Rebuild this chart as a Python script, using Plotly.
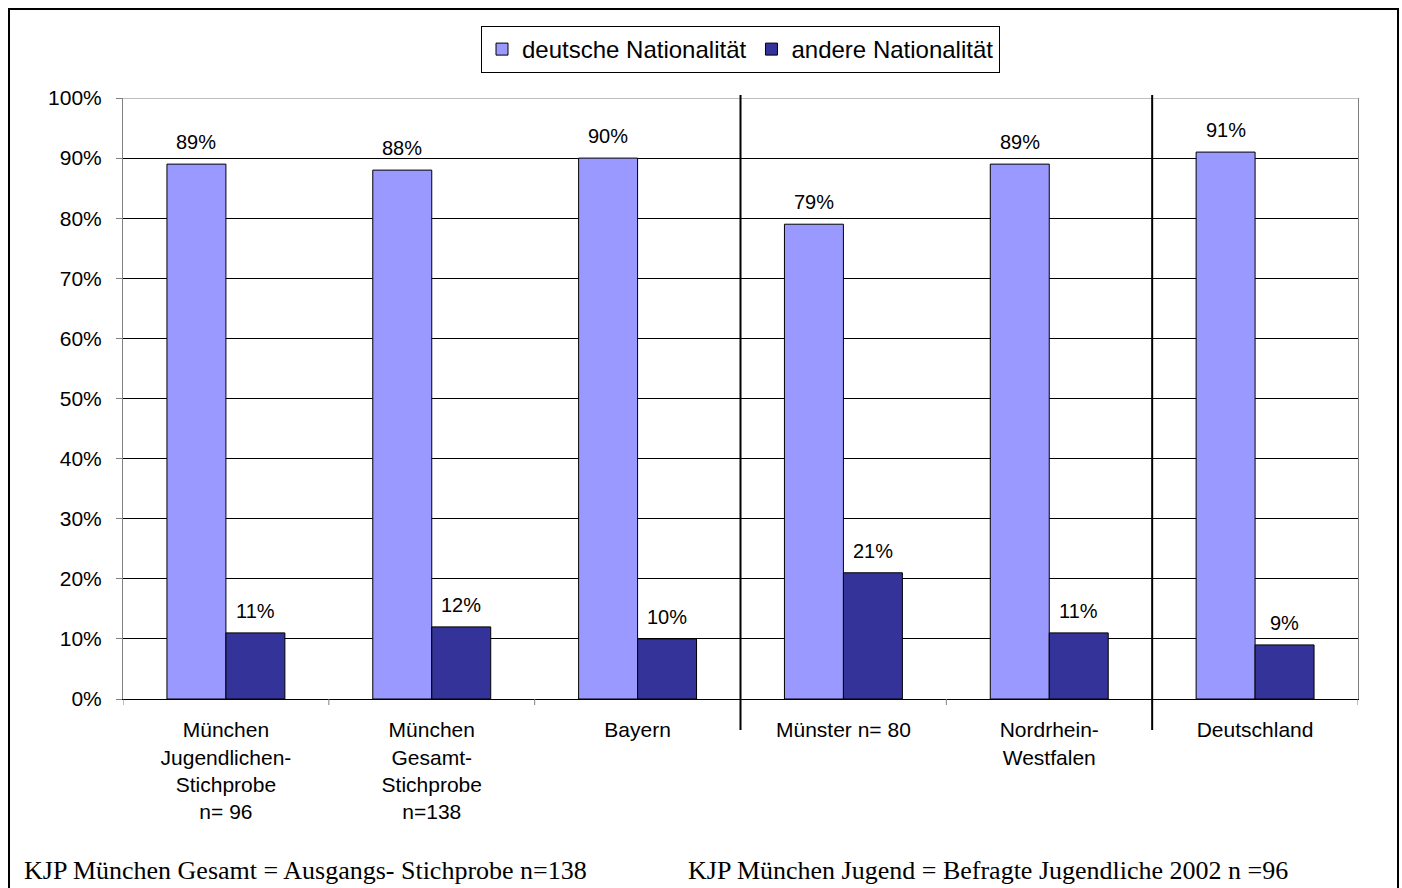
import plotly.graph_objects as go

categories = [
    "München<br>Jugendlichen-<br>Stichprobe<br>n= 96",
    "München<br>Gesamt-<br>Stichprobe<br>n=138",
    "Bayern",
    "Münster n= 80",
    "Nordrhein-<br>Westfalen",
    "Deutschland",
]
deutsche = [89, 88, 90, 79, 89, 91]
andere = [11, 12, 10, 21, 11, 9]
series_names = ["deutsche Nationalität", "andere Nationalität"]
y_ticks = list(range(0, 101, 10))
separators_after = [2.5, 4.5]
footer_left = "KJP München Gesamt = Ausgangs- Stichprobe n=138"
footer_right = "KJP München Jugend = Befragte Jugendliche 2002 n =96"

W, H = 1402, 888
L, R, T, B = 123, 44, 98, 189
pw, ph = W - L - R, H - T - B
BARGAP = 0.427
ncat = len(categories)
bar_px = (1 - BARGAP) * pw / ncat / 2

def px_x(p):
    return (p - L) / pw

def px_y(p):
    return (H - B - p) / ph

fig = go.Figure()
series = [(series_names[0], deutsche, "#9999FF", -0.5),
          (series_names[1], andere, "#333399", 0.5)]
for name, vals, col, off in series:
    fig.add_trace(go.Bar(
        x=list(range(ncat)), y=vals, name=name,
        marker=dict(color=col, line=dict(color="black", width=1)),
    ))
    for i, v in enumerate(vals):
        fig.add_annotation(x=i, y=v, xref="x", yref="y", text=f"{v}%",
                           showarrow=False, xanchor="center", yanchor="bottom",
                           xshift=off * bar_px, yshift=9,
                           font=dict(family="Liberation Sans, Arial", size=20, color="black"))

fig.update_layout(
    width=W, height=H,
    margin=dict(l=L, r=R, t=T, b=B),
    paper_bgcolor="white", plot_bgcolor="white",
    barmode="group", bargap=BARGAP, bargroupgap=0,
    font=dict(family="Liberation Sans, Arial", size=21, color="black"),
    showlegend=True,
    legend=dict(orientation="h", x=0.5, xanchor="center", y=px_y(26), yanchor="top",
                bordercolor="black", borderwidth=1, bgcolor="white",
                font=dict(size=24), itemwidth=30, tracegroupgap=0),
    xaxis=dict(
        tickmode="array", tickvals=list(range(ncat)), ticktext=categories,
        range=[-0.5, ncat - 0.5],
        showgrid=False, showline=True, linecolor="black", linewidth=1,
        ticks="", ticklabelstandoff=12, tickangle=0,
    ),
    yaxis=dict(
        range=[0, 100], tickmode="array", tickvals=y_ticks,
        ticktext=[f"{v}%" for v in y_ticks],
        showgrid=True, gridcolor="black", gridwidth=1,
        zeroline=False, showline=True, linecolor="#808080", linewidth=1, mirror=True,
        ticks="outside", ticklen=6, tickcolor="#808080", ticklabelstandoff=10,
    ),
)

# tick marks at category boundaries
for b in [i - 0.5 for i in range(ncat + 1)]:
    fig.add_shape(type="line", xref="x", yref="paper", x0=b, x1=b,
                  y0=0, y1=px_y(705), line=dict(color="#808080", width=1))

# top border of plot area
fig.add_shape(type="line", xref="paper", yref="y", x0=0, x1=1, y0=100, y1=100,
              line=dict(color="#808080", width=1))

# group separators
for s in separators_after:
    fig.add_shape(type="line", xref="x", yref="paper", x0=s, x1=s,
                  y0=px_y(730), y1=px_y(95), line=dict(color="black", width=2))

# outer frame
fig.add_shape(type="rect", xref="paper", yref="paper",
              x0=px_x(9), x1=px_x(1398), y0=px_y(900), y1=px_y(9),
              line=dict(color="black", width=2))

for txt, xp in [(footer_left, 22), (footer_right, 686)]:
    fig.add_annotation(text=txt, xref="paper", yref="paper", x=px_x(xp), y=px_y(870),
                       xanchor="left", yanchor="middle", showarrow=False,
                       font=dict(family="Liberation Serif, Times New Roman", size=26, color="black"))

fig.write_html("out.html", config={"displayModeBar": False},
               post_script="document.body.style.margin='0';document.body.style.overflow='hidden';")
